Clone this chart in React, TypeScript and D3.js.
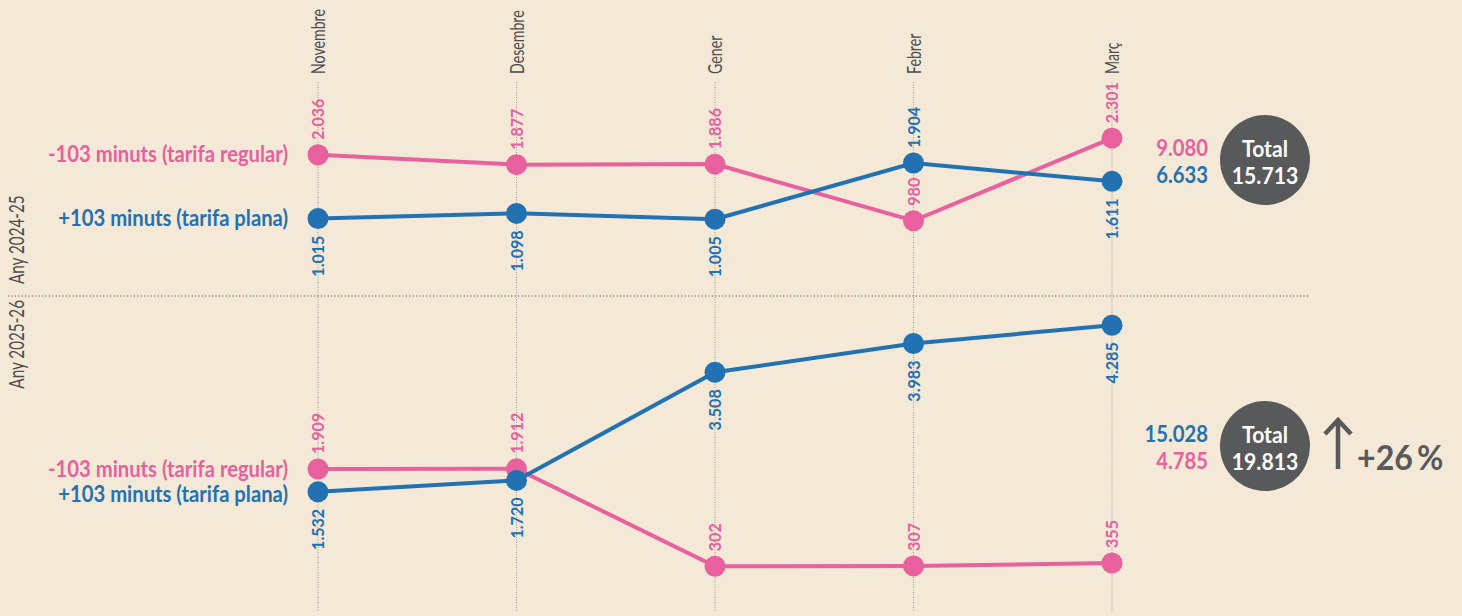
import React, { useEffect, useRef } from 'react';
import * as d3 from 'd3';

const months = ['Novembre', 'Desembre', 'Gener', 'Febrer', 'Març'];
const regular2425 = [2036, 1877, 1886, 980, 2301];
const plana2425 = [1015, 1098, 1005, 1904, 1611];
const regular2526 = [1909, 1912, 302, 307, 355];
const plana2526 = [1532, 1720, 3508, 3983, 4285];
// where each value label sits relative to its dot
const regular2425Pos = ['above', 'above', 'above', 'above', 'above'];
const plana2425Pos = ['below', 'below', 'below', 'above', 'below'];
const regular2526Pos = ['above', 'above', 'above', 'above', 'above'];
const plana2526Pos = ['below', 'below', 'below', 'below', 'below'];
const seriesNames = ['-103 minuts (tarifa regular)', '+103 minuts (tarifa plana)'];
const periods = ['Any 2024-25', 'Any 2025-26'];

const PINK = '#e8609e';
const BLUE = '#2271b3';
const GREY = '#58595b';
const BG = '#f4e8d7';
const FONT = "Lato, 'Open Sans', sans-serif";

const fmt = d3.formatLocale({ decimal: ',', thousands: '.', grouping: [3], currency: ['', ''] }).format(',d');

type TxtOpts = {
  size: number;
  bold?: boolean;
  color?: string;
  anchor?: string;
  rotate?: number;
  dy?: string;
};

export default function App() {
  const svgRef = useRef<SVGSVGElement>(null);

  useEffect(() => {
    if (!svgRef.current) return;
    const svg = d3.select(svgRef.current);
    svg.selectAll('*').remove();

    const width = 1462;
    const height = 616;

    svg.append('rect').attr('width', width).attr('height', height).attr('fill', BG);
    const g = svg.append('g').attr('font-family', FONT);

    // the original uses a condensed face; squeeze the installed one to the same widths
    const measure = (txt: string, size: number, bold: boolean) => {
      const t = g.append('text').attr('font-size', size).attr('font-weight', bold ? 'bold' : 'normal').text(txt);
      const w = (t.node() as SVGTextElement).getComputedTextLength();
      t.remove();
      return w;
    };
    const kBold = 240 / measure(seriesNames[0], 22, true);
    const kReg = 65 / measure(months[0], 20, false);

    const addText = (txt: string, x: number, y: number, o: TxtOpts) => {
      const k = o.bold ? kBold : kReg;
      return g.append('text')
        .attr('transform', `translate(${x},${y}) rotate(${o.rotate || 0}) scale(${k},1)`)
        .attr('dy', o.dy || '0')
        .attr('text-anchor', o.anchor || 'start')
        .attr('font-size', o.size)
        .attr('font-weight', o.bold ? 'bold' : 'normal')
        .attr('fill', o.color || '#555')
        .text(txt);
    };

    const x = d3.scalePoint<string>().domain(months).range([318, 1112]);
    const yTop = d3.scaleLinear().domain([0, 2000]).range([282, 157]);
    const yBot = d3.scaleLinear().domain([0, 4000]).range([584.5, 342.5]);

    // month guides
    g.selectAll('.guide')
      .data(months)
      .enter()
      .append('line')
      .attr('x1', d => x(d)!)
      .attr('x2', d => x(d)!)
      .attr('y1', 82)
      .attr('y2', 611)
      .attr('stroke', '#9a9a9a')
      .attr('stroke-width', 1)
      .attr('stroke-dasharray', '1,1.5');

    months.forEach(m => addText(m, x(m)!, 74, { size: 20, rotate: -90, dy: '0.35em', color: '#4d4d4f' }));

    // separator
    g.append('line')
      .attr('x1', 8).attr('x2', 1310)
      .attr('y1', 296).attr('y2', 296)
      .attr('stroke', '#555')
      .attr('stroke-width', 1.2)
      .attr('stroke-dasharray', '1.2,2.2');

    addText(periods[0], 16, 284, { size: 21.5, rotate: -90, dy: '0.35em', color: '#4d4d4f' });
    addText(periods[1], 16, 300, { size: 21.5, rotate: -90, dy: '0.35em', anchor: 'end', color: '#4d4d4f' });

    const drawSeries = (vals: number[], pos: string[], y: d3.ScaleLinear<number, number>, color: string) => {
      const line = d3.line<number>()
        .x((_, i) => x(months[i])!)
        .y(d => y(d));
      g.append('path')
        .datum(vals)
        .attr('fill', 'none')
        .attr('stroke', color)
        .attr('stroke-width', 4)
        .attr('d', line);
      g.append('g')
        .selectAll('circle')
        .data(vals)
        .enter()
        .append('circle')
        .attr('cx', (_, i) => x(months[i])!)
        .attr('cy', d => y(d))
        .attr('r', 10.5)
        .attr('fill', color);
      vals.forEach((d, i) => {
        const above = pos[i] === 'above';
        addText(fmt(d), x(months[i])!, above ? y(d) - 15 : y(d) + 17, {
          size: 17.5, bold: true, color, rotate: -90, dy: '0.35em', anchor: above ? 'start' : 'end',
        });
      });
    };

    drawSeries(regular2425, regular2425Pos, yTop, PINK);
    drawSeries(plana2425, plana2425Pos, yTop, BLUE);
    drawSeries(regular2526, regular2526Pos, yBot, PINK);
    drawSeries(plana2526, plana2526Pos, yBot, BLUE);

    // series names on the left, aligned with the first dot
    const nameOpts = (color: string): TxtOpts => ({ size: 22, bold: true, color, anchor: 'end', dy: '0.35em' });
    addText(seriesNames[0], 288, yTop(regular2425[0]), nameOpts(PINK));
    addText(seriesNames[1], 288, yTop(plana2425[0]), nameOpts(BLUE));
    addText(seriesNames[0], 288, yBot(regular2526[0]), nameOpts(PINK));
    addText(seriesNames[1], 288, yBot(plana2526[0]) + 2, nameOpts(BLUE));

    // totals
    const totalBlock = (cy: number, first: [number, string], second: [number, string], total: number) => {
      addText(fmt(first[0]), 1208, cy - 4, { size: 22, bold: true, color: first[1], anchor: 'end' });
      addText(fmt(second[0]), 1208, cy + 23, { size: 22, bold: true, color: second[1], anchor: 'end' });
      g.append('circle').attr('cx', 1265).attr('cy', cy).attr('r', 45).attr('fill', GREY);
      addText('Total', 1265, cy - 3, { size: 23, bold: true, color: '#fff', anchor: 'middle' });
      addText(fmt(total), 1265, cy + 24, { size: 23, bold: true, color: '#fff', anchor: 'middle' });
    };

    const regTop = d3.sum(regular2425);
    const plaTop = d3.sum(plana2425);
    const regBot = d3.sum(regular2526);
    const plaBot = d3.sum(plana2526);
    totalBlock(160, [regTop, PINK], [plaTop, BLUE], regTop + plaTop);
    totalBlock(446, [plaBot, BLUE], [regBot, PINK], regBot + plaBot);

    // growth
    const growth = Math.round(((regBot + plaBot) / (regTop + plaTop) - 1) * 100);
    g.append('path')
      .attr('d', 'M1338,469 L1338,420 M1325,434 L1338,420 L1351,434')
      .attr('fill', 'none')
      .attr('stroke', GREY)
      .attr('stroke-width', 4.5);
    addText(`+${growth}\u2009%`, 1357, 470, { size: 35, bold: true, color: GREY });
  }, []);

  return (
    <svg
      ref={svgRef}
      width={1462}
      height={616}
      style={{ display: 'block', position: 'absolute', left: 0, top: 0 }}
    />
  );
}
